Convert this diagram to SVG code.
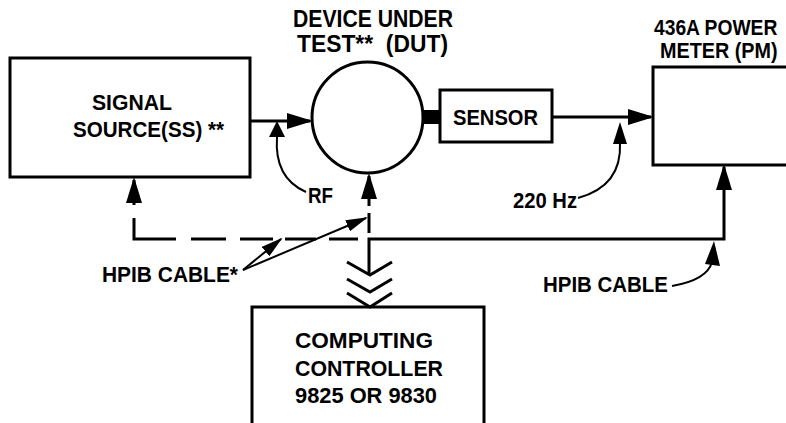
<svg xmlns="http://www.w3.org/2000/svg" width="786" height="423" viewBox="0 0 786 423">
<defs>
<style>
.box{fill:none;stroke:#000;stroke-width:3}
.ln{fill:none;stroke:#000;stroke-width:3}
.thin{fill:none;stroke:#000;stroke-width:2}
.t{font-family:"Liberation Sans",Arial,sans-serif;font-weight:bold;font-size:22px;fill:#000;white-space:pre}
.ah{fill:#000}
</style>
<marker id="big" markerUnits="userSpaceOnUse" markerWidth="26" markerHeight="16" viewBox="0 0 26 16" refX="23" refY="8" orient="auto">
<path d="M0,0 L26,8 L0,16 Z" class="ah"/>
</marker>
<marker id="small" markerUnits="userSpaceOnUse" markerWidth="22" markerHeight="12" viewBox="0 0 22 12" refX="20" refY="6" orient="auto">
<path d="M0,0 L22,6 L0,12 Z" class="ah"/>
</marker>
</defs>
<rect width="786" height="423" fill="#fff"/>

<g id="connectors">
<path class="ln" d="M250,121 L310,121" marker-end="url(#big)"/>
<path d="M422,117 L441,117" stroke="#000" stroke-width="14" fill="none"/>
<path class="ln" d="M552,117 L651,117" marker-end="url(#big)"/>
<path class="ln" d="M369,206 L369,176" marker-end="url(#big)"/>
<path class="ln" d="M369,213 L369,233"/>
<path class="ln" d="M134,205 L134,180" marker-end="url(#big)"/>
<path class="ln" d="M134,218 L134,239 L176,239 M191,239 L226,239 M240,239 L273,239 M285,239 L316,239 M329,239 L358,239"/>
<path class="ln" d="M369,275 L369,239 L724,239 L724,167" marker-end="url(#big)"/>
<polyline class="ln" points="347,262 370,275 392,262"/>
<polyline class="ln" points="347,279 370,292 392,279"/>
<polyline class="ln" points="347,293 370,307 392,293"/>
<path class="thin" d="M243,270 L281,239" marker-end="url(#small)"/>
<path class="thin" d="M243,270 L366,218" marker-end="url(#small)"/>
<path class="thin" d="M306,192 Q274,178 277,137"/>
<polygon class="ah" points="277,121 269,137 285,137"/>
<path class="thin" d="M578,198 Q622,186 620,143"/>
<polygon class="ah" points="620,122 613,144 627,144"/>
<path class="thin" d="M672,286 Q707,280 712,262"/>
<polygon class="ah" points="714,241 705,264 720,266"/>
</g>

<g id="signal-source">
<rect class="box" x="10" y="58" width="240" height="119"/>
<text class="t" x="92" y="110" textLength="80" lengthAdjust="spacingAndGlyphs">SIGNAL</text>
<text class="t" x="73" y="137" textLength="151" lengthAdjust="spacingAndGlyphs">SOURCE(SS) **</text>
</g>

<g id="dut">
<circle class="box" cx="367.5" cy="117.5" r="55.5"/>
<text class="t" x="293" y="27" textLength="160" lengthAdjust="spacingAndGlyphs" style="font-size:23px">DEVICE UNDER</text>
<text class="t" x="297" y="52" textLength="151" lengthAdjust="spacingAndGlyphs" style="font-size:23px">TEST**  (DUT)</text>
</g>

<g id="sensor">
<rect class="box" x="440" y="90" width="112" height="52"/>
<text class="t" x="453" y="125" textLength="85" lengthAdjust="spacingAndGlyphs">SENSOR</text>
</g>

<g id="power-meter">
<rect class="box" x="653" y="67" width="140" height="98"/>
<text class="t" transform="translate(654,35) scale(0.875,1)">436A POWER</text>
<text class="t" transform="translate(660,58) scale(0.9,1)">METER (PM)</text>
</g>

<g id="controller">
<rect class="box" x="252" y="307" width="232" height="130"/>
<text class="t" x="295" y="348" textLength="138" lengthAdjust="spacingAndGlyphs">COMPUTING</text>
<text class="t" x="295" y="376" textLength="148" lengthAdjust="spacingAndGlyphs">CONTROLLER</text>
<text class="t" x="295" y="403" textLength="142" lengthAdjust="spacingAndGlyphs">9825 OR 9830</text>
</g>

<g id="labels">
<text class="t" x="308" y="203" textLength="25" lengthAdjust="spacingAndGlyphs">RF</text>
<text class="t" x="513" y="208" textLength="64" lengthAdjust="spacingAndGlyphs">220 Hz</text>
<text class="t" x="102" y="282" textLength="136" lengthAdjust="spacingAndGlyphs">HPIB CABLE*</text>
<text class="t" x="543" y="292" textLength="125" lengthAdjust="spacingAndGlyphs">HPIB CABLE</text>
</g>
</svg>
